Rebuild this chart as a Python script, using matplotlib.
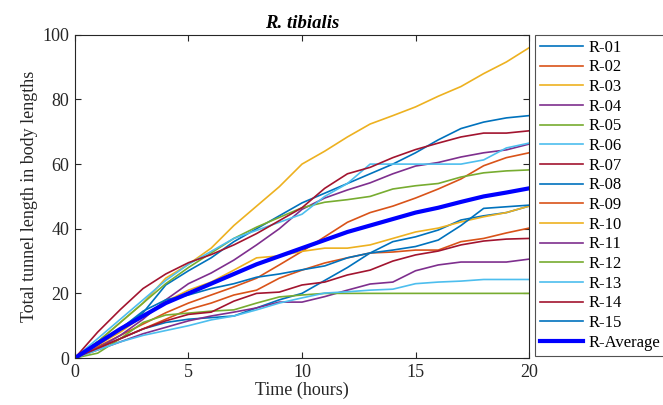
import matplotlib.pyplot as plt
import numpy as np

hours = list(range(21))

r01 = [0, 4, 9, 14, 22.6, 27, 31, 36, 40, 44, 48, 51, 54, 57, 60, 63.5, 67.5, 71, 73, 74.3, 75]
r02 = [0, 3.5, 7, 10.5, 14, 17, 19.5, 22, 24.7, 28.8, 33, 37.5, 42, 45, 47, 49.5, 52.3, 55.4, 59.5, 62, 63.5]
r03 = [0, 5, 11, 17, 24.7, 29, 34, 41, 47, 53, 60, 64, 68.4, 72.4, 75, 77.7, 81, 84, 88, 91.6, 96]
r04 = [0, 3, 7, 12, 18, 23, 26.3, 30.3, 35, 40, 46, 49.5, 52, 54.2, 57, 59.4, 60.5, 62.2, 63.5, 64.4, 66.2]
r05 = [0, 5, 11, 17, 23, 28, 32.5, 37, 40.5, 43.5, 46.5, 48.2, 49, 50, 52.3, 53.3, 54, 56, 57.3, 57.9, 58.2]
r06 = [0, 6, 12, 18, 24, 29, 33, 37, 39.5, 42, 44.5, 50, 54, 60, 60, 60, 60, 60, 61.3, 65, 66.5]
r07 = [0, 8, 15, 21.5, 26, 29.5, 32, 35, 38.5, 42.5, 46.5, 52.5, 57, 59, 62, 64.5, 66.5, 68.4, 69.6, 69.6, 70.3]
r08 = [0, 3, 6, 9, 11, 12, 12.5, 13, 15.5, 18, 20, 24, 28, 32.5, 36, 37.5, 39.6, 42.7, 44, 45, 47]
r09 = [0, 3, 6, 9, 12, 15, 17, 19.5, 21, 24.7, 27.2, 29.4, 31, 32.5, 32.8, 33.4, 33.4, 36, 37, 38.7, 40.2]
r10 = [0, 4, 8, 13, 17.5, 21, 23.5, 27.2, 31, 31.6, 33, 34, 34, 35, 37, 39, 40.2, 42.1, 43.7, 45, 47]
r11 = [0, 2.5, 5, 7.5, 9.5, 11.5, 13, 14.2, 15.5, 17.3, 17.3, 19, 21, 22.9, 23.5, 27, 28.8, 29.7, 29.7, 29.7, 30.6]
r12 = [0, 1.5, 6, 11, 13.3, 13.9, 14.5, 14.9, 17, 18.9, 19.5, 20, 20, 20, 20, 20, 20, 20, 20, 20, 20]
r13 = [0, 2.5, 5, 7, 8.5, 10, 11.8, 13, 14.9, 17, 18.6, 20.1, 20.5, 21, 21.3, 23, 23.5, 23.8, 24.3, 24.3, 24.3]
r14 = [0, 3, 6, 9, 11.5, 13.5, 14.2, 17.6, 20, 20.4, 22.6, 23.5, 25.7, 27.2, 30, 31.9, 33.1, 35, 36.2, 36.8, 37]
r15 = [0, 5, 9, 14.5, 18, 19.5, 21.5, 23, 25, 26, 27.3, 28.5, 31, 32.5, 33.4, 34.5, 36.5, 41, 46.3, 46.8, 47.3]
r_avg = [0, 4.5, 9, 13, 17, 20, 23, 26, 29, 31.5, 34, 36.5, 39, 41, 43, 45, 46.5, 48.3, 50, 51.2, 52.5]

series = [r01, r02, r03, r04, r05, r06, r07, r08, r09, r10, r11, r12, r13, r14, r15]
names = ['R-%02d' % (i + 1) for i in range(15)]
colors = ['#0072BD', '#D95319', '#EDB120', '#7E2F8E', '#77AC30', '#4DBEEE', '#A2142F']

plt.rcParams['font.family'] = ['Liberation Serif', 'DejaVu Serif']
plt.rcParams['font.size'] = 13

fig = plt.figure(figsize=(6.63, 4.05), dpi=100)
ax = fig.add_axes([0.113, 0.116, 0.685, 0.798])

for i, y in enumerate(series):
    ax.plot(hours, y, color=colors[i % 7], lw=1.2, label=names[i])
ax.plot(hours, r_avg, color='#0000FF', lw=3, label='R-Average')

ax.set_xlim(0, 20)
ax.set_ylim(0, 100)
ax.set_xticks([0, 5, 10, 15, 20])
ax.set_yticks([0, 20, 40, 60, 80, 100])
ax.tick_params(direction='in', length=4, colors='#262626', labelsize=13, top=True, right=True, pad=4)
for s in ax.spines.values():
    s.set_color('#262626')
ax.set_xlabel('Time (hours)', color='#262626', labelpad=1, fontsize=13)
ax.set_ylabel('Total tunnel length in body lengths', color='#262626', labelpad=3, fontsize=13)
ax.set_title('R. tibialis', fontweight='bold', fontstyle='italic', fontsize=13.5, pad=5)

leg = ax.legend(loc='upper left', bbox_to_anchor=(1.012, 1.0), borderaxespad=0,
                fancybox=False, edgecolor='#262626', handlelength=2.6,
                labelspacing=0.22, handletextpad=0.35, borderpad=0.3, fontsize=12)
leg.get_frame().set_linewidth(0.8)

fig.savefig('out.png', dpi=100)
